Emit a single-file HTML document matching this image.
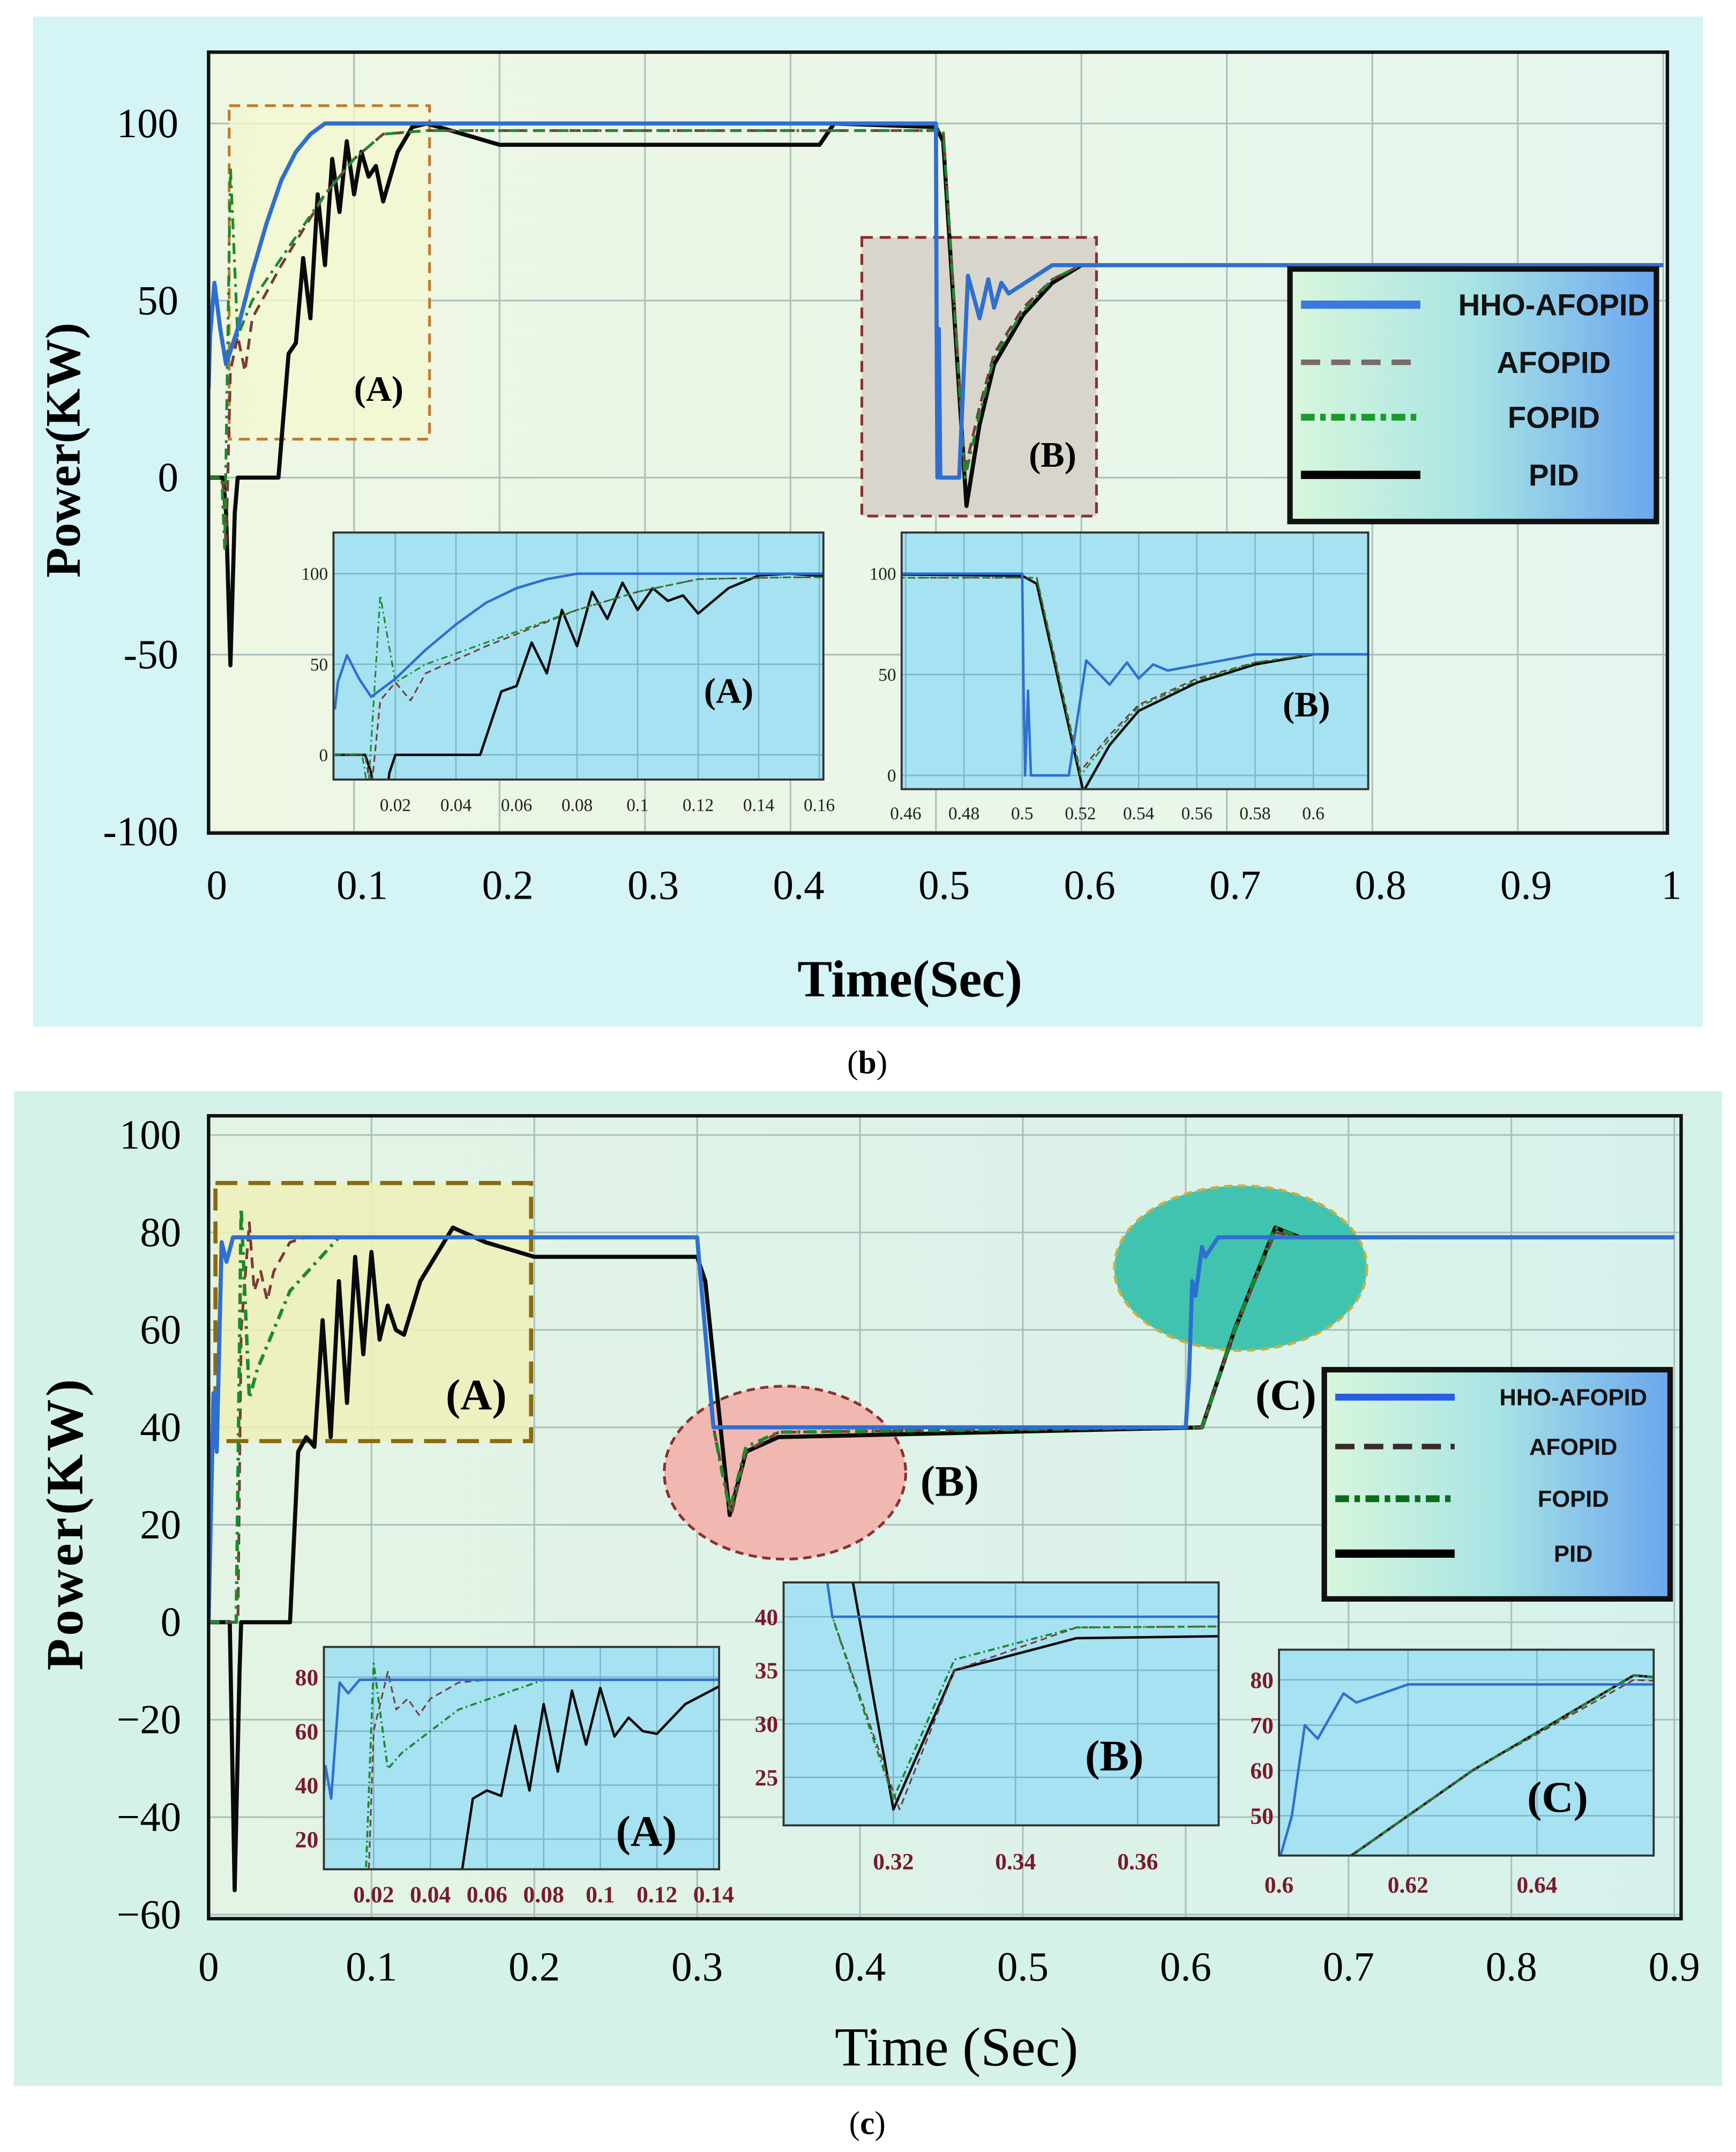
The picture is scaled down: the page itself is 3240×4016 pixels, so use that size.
<!DOCTYPE html>
<html><head><meta charset="utf-8">
<style>
html,body{margin:0;padding:0;background:#fff;width:3240px;height:4016px;overflow:hidden;}
svg{display:block;position:absolute;left:0;top:0;}
text{font-family:"Liberation Serif",serif;}
.sans{font-family:"Liberation Sans",sans-serif;}
</style></head>
<body>
<svg id="root" width="3240" height="4016" viewBox="0 0 1265 1568" preserveAspectRatio="none" xmlns="http://www.w3.org/2000/svg">
<defs>
<linearGradient id="legG" x1="0" x2="1" y1="0" y2="0"><stop offset="0" stop-color="#d8f6dc"/><stop offset="0.5" stop-color="#a8e4e4"/><stop offset="1" stop-color="#6aa6ee"/></linearGradient>
<linearGradient id="bgB" x1="0" x2="1"><stop offset="0" stop-color="#eef7e2"/><stop offset="1" stop-color="#e6f5ee"/></linearGradient>
<linearGradient id="bgC" x1="0" x2="1"><stop offset="0" stop-color="#e4f4e4"/><stop offset="1" stop-color="#d6f1ec"/></linearGradient>
</defs>
<rect x="0" y="0" width="1265" height="1568" fill="#ffffff"/>
<rect x="24" y="12" width="1217" height="736" fill="#d4f4f6"/>
<rect x="10" y="795" width="1245" height="725" fill="#d4f2ea"/>
<g id="gb"></g>
<g id="gc"></g>
<text x="632" y="782" font-size="24" text-anchor="middle">(<tspan font-weight="bold">b</tspan>)</text>
<text x="632" y="1555" font-size="24" text-anchor="middle">(<tspan font-weight="bold">c</tspan>)</text>
</svg>
<script>
// ---------- Panel (b) data ----------
const bXTicks = [0,0.1,0.2,0.3,0.4,0.5,0.6,0.7,0.8,0.9,1];
const bXTickLabels = ["0","0.1","0.2","0.3","0.4","0.5","0.6","0.7","0.8","0.9","1"];
const bYTicks = [100,50,0,-50,-100];
const bYTickLabels = ["100","50","0","-50","-100"];
const bHHO_t = [0,0.001,0.004,0.008,0.012,0.02,0.03,0.04,0.05,0.06,0.07,0.08,0.1,0.5,0.5005,0.501,0.502,0.503,0.516,0.522,0.53,0.536,0.54,0.545,0.55,0.58,1.0];
const bHHO_v = [25,40,55,42,32,42,58,72,84,92,97,100,100,100,40,0,42,0,0,57,45,56,48,55,52,60,60];
const bAF_t = [0,0.01,0.012,0.015,0.02,0.025,0.03,0.05,0.08,0.1,0.12,0.15,0.5,0.505,0.52,0.53,0.54,0.56,0.58,0.6,1.0];
const bAF_v = [0,0,-20,30,40,30,45,60,80,90,97,98,98,98,2,20,35,48,56,60,60];
const bFO_t = [0,0.009,0.011,0.015,0.02,0.025,0.03,0.05,0.08,0.1,0.12,0.15,0.5,0.505,0.52,0.53,0.54,0.56,0.58,0.6,1.0];
const bFO_v = [0,0,-20,88,40,45,50,62,80,90,97,98,98,98,0,18,34,47,56,60,60];
const bPID_t = [0,0.01,0.012,0.015,0.018,0.02,0.048,0.055,0.06,0.065,0.07,0.075,0.08,0.085,0.09,0.095,0.1,0.105,0.11,0.115,0.12,0.13,0.14,0.15,0.2,0.42,0.43,0.5,0.505,0.521,0.53,0.54,0.56,0.58,0.6,1.0];
const bPID_v = [0,0,-10,-53,-10,0,0,35,38,62,45,80,60,90,75,95,80,92,85,88,78,92,99,100,94,94,100,99,95,-8,15,32,46,55,60,60];
// ---------- Panel (c) data ----------
const cXTicks = [0,0.1,0.2,0.3,0.4,0.5,0.6,0.7,0.8,0.9];
const cXTickLabels = ["0","0.1","0.2","0.3","0.4","0.5","0.6","0.7","0.8","0.9"];
const cYTicks = [100,80,60,40,20,0,-20,-40,-60];
const cYTickLabels = ["100","80","60","40","20","0","\u221220","\u221240","\u221260"];
const cHHO_t = [0,0.003,0.005,0.008,0.011,0.015,0.3,0.31,0.6,0.602,0.604,0.606,0.61,0.612,0.62,0.9];
const cHHO_v = [0,47,35,78,74,79,79,40,40,50,70,67,77,75,79,79];
const cAF_t = [0,0.018,0.02,0.025,0.028,0.032,0.036,0.04,0.05,0.06,0.08,0.3,0.31,0.321,0.33,0.35,0.61,0.63,0.655,0.67,0.9];
const cAF_v = [0,0,60,82,68,72,66,72,78,79,79,79,40,22,35,39,40,60,80,79,79];
const cFO_t = [0,0.017,0.02,0.025,0.03,0.05,0.08,0.3,0.31,0.32,0.33,0.35,0.61,0.63,0.655,0.67,0.9];
const cFO_v = [0,0,85,46,52,68,79,79,40,23,36,39,40,60,81,79,79];
const cPID_t = [0,0.013,0.016,0.019,0.02,0.05,0.055,0.06,0.065,0.07,0.075,0.08,0.085,0.09,0.095,0.1,0.105,0.11,0.115,0.12,0.13,0.15,0.17,0.2,0.3,0.305,0.32,0.33,0.35,0.61,0.63,0.655,0.67,0.9];
const cPID_v = [0,0,-55,-10,0,0,35,38,36,62,38,70,45,75,55,76,58,65,60,59,70,81,78,75,75,70,22,35,38,40,60,81,79,79];
// inset ticks
const bInAX = [0.02,0.04,0.06,0.08,0.1,0.12,0.14,0.16];
const bInAY = [100,50,0];
const bInBX = [0.46,0.48,0.5,0.52,0.54,0.56,0.58,0.6];
const bInBY = [100,50,0];
const cInAX = [0.02,0.04,0.06,0.08,0.1,0.12,0.14];
const cInAY = [80,60,40,20];
const cInBX = [0.32,0.34,0.36];
const cInBY = [40,35,30,25];
const cInCX = [0.6,0.62,0.64];
const cInCY = [80,70,60,50];

const NS="http://www.w3.org/2000/svg";
function mk(tag, attrs, parent){const e=document.createElementNS(NS,tag);for(const k in attrs)e.setAttribute(k,attrs[k]);parent.appendChild(e);return e;}
function lin(d0,d1,r0,r1){return v=>r0+(v-d0)/(d1-d0)*(r1-r0);}
let clipId=0;
function drawSeries(g, sx, sy, series, scale){
  series.forEach(s=>{
    let d="";
    for(let i=0;i<s.t.length;i++){d+=(i?"L":"M")+sx(s.t[i]).toFixed(2)+","+sy(s.v[i]).toFixed(2);}
    const p=mk("path",{d:d,fill:"none",stroke:s.color,"stroke-width":s.w*scale,"stroke-linejoin":"round"},g);
    if(s.dash)p.setAttribute("stroke-dasharray",s.dash.map(x=>x*scale).join(" "));
    
    
  });
}
function panel(gid, cfg){
  const g=document.getElementById(gid);
  const sx=lin(cfg.x0,cfg.x1,cfg.px0,cfg.px1), sy=lin(cfg.y0,cfg.y1,cfg.py0,cfg.py1);
  const L=cfg.left,R=cfg.right,T=cfg.top,B=cfg.bottom;
  const bg=mk("rect",{x:L,y:T,width:R-L,height:B-T,fill:cfg.fill},g);
  
  
  cfg.xt.forEach((t,i)=>{
    const x=sx(t);
    const ln=mk("line",{x1:x,x2:x,y1:T,y2:B,stroke:"#aac0bc","stroke-width":1.2},g);
    
    
    const tx=mk("text",{x:x+cfg.xlOff,y:cfg.xlY,"font-size":cfg.tfs,"text-anchor":"middle"},g);
    tx.textContent=cfg.xl[i];
    
    
  });
  cfg.yt.forEach((t,i)=>{
    const y=sy(t);
    const ln=mk("line",{x1:L,x2:R,y1:y,y2:y,stroke:"#aac0bc","stroke-width":1.2},g);
    
    
    const tx=mk("text",{x:L-cfg.ylGap,y:y+cfg.tfs*0.33,"font-size":cfg.tfs,"text-anchor":"end"},g);
    tx.textContent=cfg.yl[i];
    
    
  });
  cfg.decor && cfg.decor(g);
  const id="cl"+(clipId++);
  const cp=mk("clipPath",{id:id},g); mk("rect",{x:L,y:T,width:R-L,height:B-T},cp);
  const sg=mk("g",{"clip-path":"url(#"+id+")"},g);
  drawSeries(sg,sx,sy,cfg.series,1);
  const fr=mk("rect",{x:L,y:T,width:R-L,height:B-T,fill:"none",stroke:"#111","stroke-width":2.5},g);
  
  
}
function inset(g, cfg, series){
  const sx=lin(cfg.x0,cfg.x1,cfg.px0,cfg.px1), sy=lin(cfg.y0,cfg.y1,cfg.py0,cfg.py1);
  const L=cfg.left,R=cfg.right,T=cfg.top,B=cfg.bottom;
  const ig=mk("g",{},g);
  
  
  mk("rect",{x:L,y:T,width:R-L,height:B-T,fill:"#a6e2f2"},ig);
  cfg.xt.forEach(t=>{const x=sx(t);mk("line",{x1:x,x2:x,y1:T,y2:B,stroke:"#7ab6c8","stroke-width":1},ig);
    const tx=mk("text",{x:x,y:cfg.xlY,"font-size":cfg.fs,"text-anchor":"middle",fill:cfg.tc,"font-weight":cfg.fw||"normal"},ig);tx.textContent=String(t);
    
    });
  cfg.yt.forEach(t=>{const y=sy(t);mk("line",{x1:L,x2:R,y1:y,y2:y,stroke:"#7ab6c8","stroke-width":1},ig);
    const tx=mk("text",{x:L-4,y:y+cfg.fs*0.35,"font-size":cfg.fs,"text-anchor":"end",fill:cfg.tc,"font-weight":cfg.fw||"normal"},ig);tx.textContent=String(t);
    
    });
  const id="cl"+(clipId++);
  const cp=mk("clipPath",{id:id},ig); mk("rect",{x:L,y:T,width:R-L,height:B-T},cp);
  const sg=mk("g",{"clip-path":"url(#"+id+")"},ig);
  drawSeries(sg,sx,sy,series,0.6);
  mk("rect",{x:L,y:T,width:R-L,height:B-T,fill:"none",stroke:"#333","stroke-width":1.5},ig);
  const lb=mk("text",{x:cfg.lx,y:cfg.ly,"font-size":cfg.lfs,"font-weight":"bold","text-anchor":"middle"},ig);
  lb.textContent=cfg.label;
  
  
}
function legend(g,x,y,w,h,fs,rowY,items){
  const lg=mk("g",{},g);
  
  
  mk("rect",{x:x,y:y,width:w,height:h,fill:"url(#legG)",stroke:"#111","stroke-width":4},lg);
  items.forEach((it,i)=>{
    const yy=y+rowY[i];
    const ln=mk("line",{x1:x+8,x2:x+95,y1:yy,y2:yy,stroke:it.color,"stroke-width":it.lw},lg);
    if(it.dash)ln.setAttribute("stroke-dasharray",it.dash.join(" "));
    
    
    const tx=mk("text",{x:x+w*0.72,y:yy+fs*0.35,"font-size":fs,"font-weight":"bold","text-anchor":"middle",class:"sans",fill:"#111"},lg);
    tx.textContent=it.label;
    
    
  });
}
const colHHO="#2f6fd0", colAF="#7a3a3a", colFO="#1c8a2c", colPID="#0a0a0a";
const bSeries=[
  {name:"pid",t:bPID_t,v:bPID_v,color:colPID,w:3},
  {name:"afopid",t:bAF_t,v:bAF_v,color:colAF,w:2,dash:[8,5]},
  {name:"fopid",t:bFO_t,v:bFO_v,color:colFO,w:2,dash:[8,4,2,4]},
  {name:"hho-afopid",t:bHHO_t,v:bHHO_v,color:colHHO,w:3}];
const cSeries=[
  {name:"pid",t:cPID_t,v:cPID_v,color:colPID,w:3},
  {name:"afopid",t:cAF_t,v:cAF_v,color:colAF,w:2,dash:[8,5]},
  {name:"fopid",t:cFO_t,v:cFO_v,color:colFO,w:2.5,dash:[8,4,2,4]},
  {name:"hho-afopid",t:cHHO_t,v:cHHO_v,color:colHHO,w:3}];

// Panel b
panel("gb",{x0:0,x1:1,px0:152,px1:1212,y0:100,y1:-50,py0:90,py1:477,left:152,right:1215,top:38,bottom:607,fill:"url(#bgB)",
  xt:bXTicks,xl:bXTickLabels,yt:bYTicks,yl:bYTickLabels,tfs:30,xlY:655,xlOff:6,ylGap:22,series:bSeries,
  decor:g=>{
    const a=mk("rect",{x:167,y:77,width:146,height:243,fill:"#f2f6d0","fill-opacity":0.8,stroke:"#c07a30","stroke-width":2,"stroke-dasharray":"8 5"},g);
    
    const b=mk("rect",{x:628,y:173,width:171,height:203,fill:"#d8d6cc",stroke:"#8a3030","stroke-width":2,"stroke-dasharray":"8 5"},g);
    
  }});
(function(){const g=document.getElementById("gb");
  let t=mk("text",{x:276,y:292,"font-size":26,"font-weight":"bold","text-anchor":"middle"},g);t.textContent="(A)";
  t=mk("text",{x:767,y:340,"font-size":26,"font-weight":"bold","text-anchor":"middle"},g);t.textContent="(B)";
  t=mk("text",{x:0,y:0,"font-size":36,"font-weight":"bold","text-anchor":"middle",transform:"translate(58,328) rotate(-90)"},g);t.textContent="Power(KW)";
  t=mk("text",{x:663,y:726,"font-size":38,"font-weight":"bold","text-anchor":"middle"},g);t.textContent="Time(Sec)";
  inset(g,{name:"inset-b-a",x0:0,x1:0.16,px0:244,px1:597,y0:100,y1:0,py0:418,py1:550,left:243,right:600,top:388,bottom:568,xt:bInAX,yt:bInAY,xlY:591,fs:13,tc:"#222",label:"(A)",lx:531,ly:512,lfs:26},bSeries);
  inset(g,{name:"inset-b-b",x0:0.46,x1:0.6,px0:660,px1:957,y0:100,y1:0,py0:418,py1:565,left:657,right:997,top:388,bottom:575,xt:bInBX,yt:bInBY,xlY:597,fs:13,tc:"#222",label:"(B)",lx:952,ly:522,lfs:26},bSeries);
  legend(g,940,196,267,184,22,[26,68,108,150],[
    {label:"HHO-AFOPID",color:"#3a7ae0",lw:6},{label:"AFOPID",color:"#7a6a6a",lw:4,dash:[14,8]},
    {label:"FOPID",color:"#1c9a2c",lw:5,dash:[10,4,4,4]},{label:"PID",color:"#000",lw:6}]);
})();

// Panel c
panel("gc",{x0:0,x1:0.9,px0:152,px1:1220,y0:0,y1:-60,py0:1182,py1:1395,left:152,right:1225,top:813,bottom:1398,fill:"url(#bgC)",
  xt:cXTicks,xl:cXTickLabels,yt:cYTicks,yl:cYTickLabels,tfs:30,xlY:1443,xlOff:0,ylGap:20,series:cSeries,
  decor:g=>{
    const a=mk("rect",{x:157,y:862,width:230,height:188,fill:"#eef0b8","fill-opacity":0.85,stroke:"#8a6a10","stroke-width":3,"stroke-dasharray":"16 8"},g);
    
    const b=mk("ellipse",{cx:572,cy:1073,rx:88,ry:63,fill:"#f0b8b0",stroke:"#8a3030","stroke-width":2,"stroke-dasharray":"6 4"},g);
    
    const c=mk("ellipse",{cx:904,cy:924,rx:92,ry:60,fill:"#40c4b0",stroke:"#c8b040","stroke-width":2,"stroke-dasharray":"6 4"},g);
    
  }});
(function(){const g=document.getElementById("gc");
  let t=mk("text",{x:347,y:1027,"font-size":32,"font-weight":"bold","text-anchor":"middle"},g);t.textContent="(A)";
  t=mk("text",{x:692,y:1090,"font-size":32,"font-weight":"bold","text-anchor":"middle"},g);t.textContent="(B)";
  t=mk("text",{x:937,y:1027,"font-size":32,"font-weight":"bold","text-anchor":"middle"},g);t.textContent="(C)";
  t=mk("text",{x:0,y:0,"font-size":38,"font-weight":"bold","text-anchor":"middle","letter-spacing":"2",transform:"translate(60,1110) rotate(-90)"},g);t.textContent="Power(KW)";
  t=mk("text",{x:697,y:1505,"font-size":40,"text-anchor":"middle"},g);t.textContent="Time (Sec)";
  inset(g,{name:"inset-c-a",x0:0,x1:0.14,px0:231,px1:520,y0:80,y1:20,py0:1222,py1:1340,left:236,right:524,top:1200,bottom:1362,xt:cInAX,yt:cInAY,xlY:1386,fs:17,fw:"bold",tc:"#7a1a2a",label:"(A)",lx:471,ly:1345,lfs:32},cSeries);
  inset(g,{name:"inset-c-b",x0:0.3,x1:0.38,px0:562,px1:918,y0:40,y1:25,py0:1178,py1:1295,left:571,right:888,top:1153,bottom:1330,xt:cInBX,yt:cInBY,xlY:1362,fs:17,fw:"bold",tc:"#7a1a2a",label:"(B)",lx:812,ly:1290,lfs:32},cSeries);
  inset(g,{name:"inset-c-c",x0:0.6,x1:0.66,px0:932,px1:1214,y0:80,y1:50,py0:1224,py1:1323,left:932,right:1205,top:1202,bottom:1352,xt:cInCX,yt:cInCY,xlY:1379,fs:17,fw:"bold",tc:"#7a1a2a",label:"(C)",lx:1135,ly:1320,lfs:32},cSeries);
  legend(g,965,998,252,167,17,[20,56,94,134],[
    {label:"HHO-AFOPID",color:"#2a5ee0",lw:5},{label:"AFOPID",color:"#3a2a2a",lw:4,dash:[14,7]},
    {label:"FOPID",color:"#0e6a1c",lw:5,dash:[10,4,4,4]},{label:"PID",color:"#000",lw:6}]);
})();
</script>
</body></html>
